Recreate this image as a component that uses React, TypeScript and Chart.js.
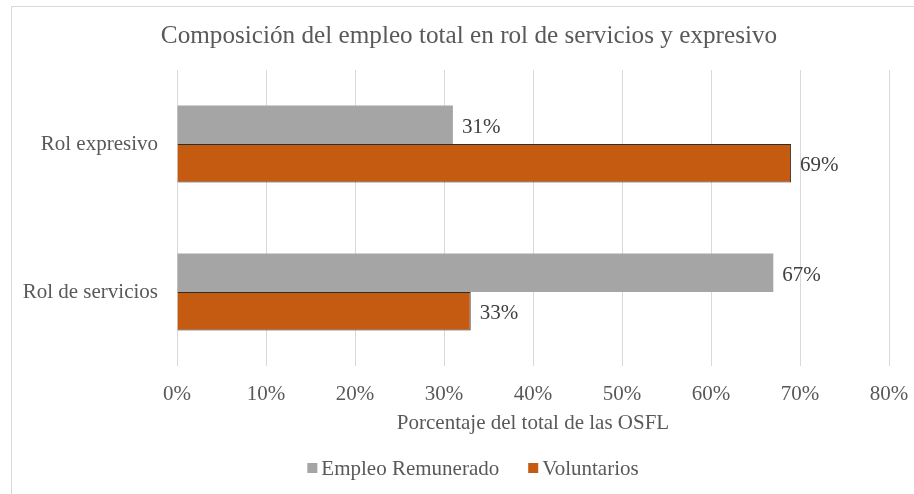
import React, { useEffect, useRef } from 'react';
import { Chart, registerables } from 'chart.js';

Chart.register(...registerables);

const categories = ['Rol expresivo', 'Rol de servicios'];
const seriesNames = ['Empleo Remunerado', 'Voluntarios'];
const empleoRemunerado = [31, 67];
const voluntarios = [69, 33];
const seriesColors = ['#A5A5A5', '#C55A11'];
const titleText = 'Composición del empleo total en rol de servicios y expresivo';
const xAxisTitle = 'Porcentaje del total de las OSFL';
const xMin = 0;
const xMax = 80;
const xStep = 10;

const FONT = '"Liberation Serif", "Times New Roman", serif';
const TEXT = '#595959';

const valueLabels = {
  id: 'valueLabels',
  afterDatasetsDraw(chart: any) {
    const ctx = chart.ctx;
    ctx.save();
    ctx.font = `21px ${FONT}`;
    ctx.fillStyle = '#404040';
    ctx.textAlign = 'left';
    ctx.textBaseline = 'middle';
    chart.data.datasets.forEach((ds: any, i: number) => {
      const meta = chart.getDatasetMeta(i);
      meta.data.forEach((bar: any, j: number) => {
        ctx.fillText(`${ds.data[j]}%`, bar.x + 9, bar.y + 2.5);
      });
    });
    ctx.restore();
  },
};

const customTitle = {
  id: 'customTitle',
  afterDraw(chart: any) {
    const ctx = chart.ctx;
    ctx.save();
    ctx.font = `25.2px ${FONT}`;
    ctx.fillStyle = TEXT;
    ctx.textAlign = 'center';
    ctx.textBaseline = 'middle';
    ctx.fillText(titleText, 469, 36);
    ctx.restore();
  },
};

const customLegend = {
  id: 'customLegend',
  afterDraw(chart: any) {
    const ctx = chart.ctx;
    ctx.save();
    ctx.font = `21px ${FONT}`;
    ctx.textBaseline = 'middle';
    ctx.textAlign = 'left';
    const box = 10;
    const gapBoxText = 4;
    const gapItems = 29;
    const items = chart.data.datasets.map((ds: any) => ({
      label: ds.label,
      color: ds.backgroundColor,
      w: ctx.measureText(ds.label).width,
    }));
    const total = items.reduce((s: number, it: any) => s + box + gapBoxText + it.w, 0) + gapItems * (items.length - 1);
    let x = 473 - total / 2;
    const cy = 468;
    items.forEach((it: any) => {
      ctx.fillStyle = it.color;
      ctx.fillRect(x, cy - box / 2, box, box);
      x += box + gapBoxText;
      ctx.fillStyle = TEXT;
      ctx.fillText(it.label, x, cy + 1);
      x += it.w + gapItems;
    });
    ctx.restore();
  },
};

export default function App() {
  const ref = useRef<HTMLCanvasElement>(null);
  useEffect(() => {
    if (!ref.current) return;
    const chart = new Chart(ref.current, {
      type: 'bar',
      data: {
        labels: categories,
        datasets: [
          {
            label: seriesNames[0],
            data: empleoRemunerado,
            backgroundColor: seriesColors[0],
            borderWidth: 0,
            barPercentage: 1,
            categoryPercentage: 0.52,
          },
          {
            label: seriesNames[1],
            data: voluntarios,
            backgroundColor: seriesColors[1],
            borderColor: '#2E2E2E',
            borderWidth: 1,
            barPercentage: 1,
            categoryPercentage: 0.52,
          },
        ],
      },
      options: {
        indexAxis: 'y',
        responsive: false,
        animation: false,
        devicePixelRatio: 1,
        layout: { padding: { left: 0, right: 25, top: 70, bottom: 48 } },
        plugins: {
          legend: { display: false },
          tooltip: { enabled: false },
          title: { display: false },
        },
        scales: {
          x: {
            min: xMin,
            max: xMax,
            border: { display: false },
            grid: { color: '#D9D9D9', drawTicks: false },
            ticks: {
              stepSize: xStep,
              color: TEXT,
              font: { family: FONT, size: 21 },
              padding: 16,
              maxRotation: 0,
              callback: (v: any) => `${v}%`,
            },
            title: {
              display: true,
              text: xAxisTitle,
              color: TEXT,
              font: { family: FONT, size: 21 },
              padding: { top: 0, bottom: 10 },
            },
            afterFit: (scale: any) => {
              scale.height = 80;
              scale.paddingLeft = 0;
              scale.paddingRight = 0;
            },
          },
          y: {
            border: { display: false },
            grid: { display: false, drawTicks: false },
            ticks: {
              color: TEXT,
              font: { family: FONT, size: 21 },
              padding: 19,
            },
            afterFit: (scale: any) => {
              scale.width = 177;
            },
          },
        },
      },
      plugins: [valueLabels, customTitle, customLegend],
    });
    return () => chart.destroy();
  }, []);
  return (
    <div style={{ position: 'fixed', left: 0, top: 0, width: 914, height: 494, overflow: 'hidden', background: '#fff' }}>
      <div style={{ position: 'absolute', left: 11, top: 6, width: 1000, height: 1000, border: '1px solid #D9D9D9' }} />
      <canvas ref={ref} width={914} height={494} style={{ position: 'absolute', left: 0, top: 0, width: 914, height: 494 }} />
    </div>
  );
}
